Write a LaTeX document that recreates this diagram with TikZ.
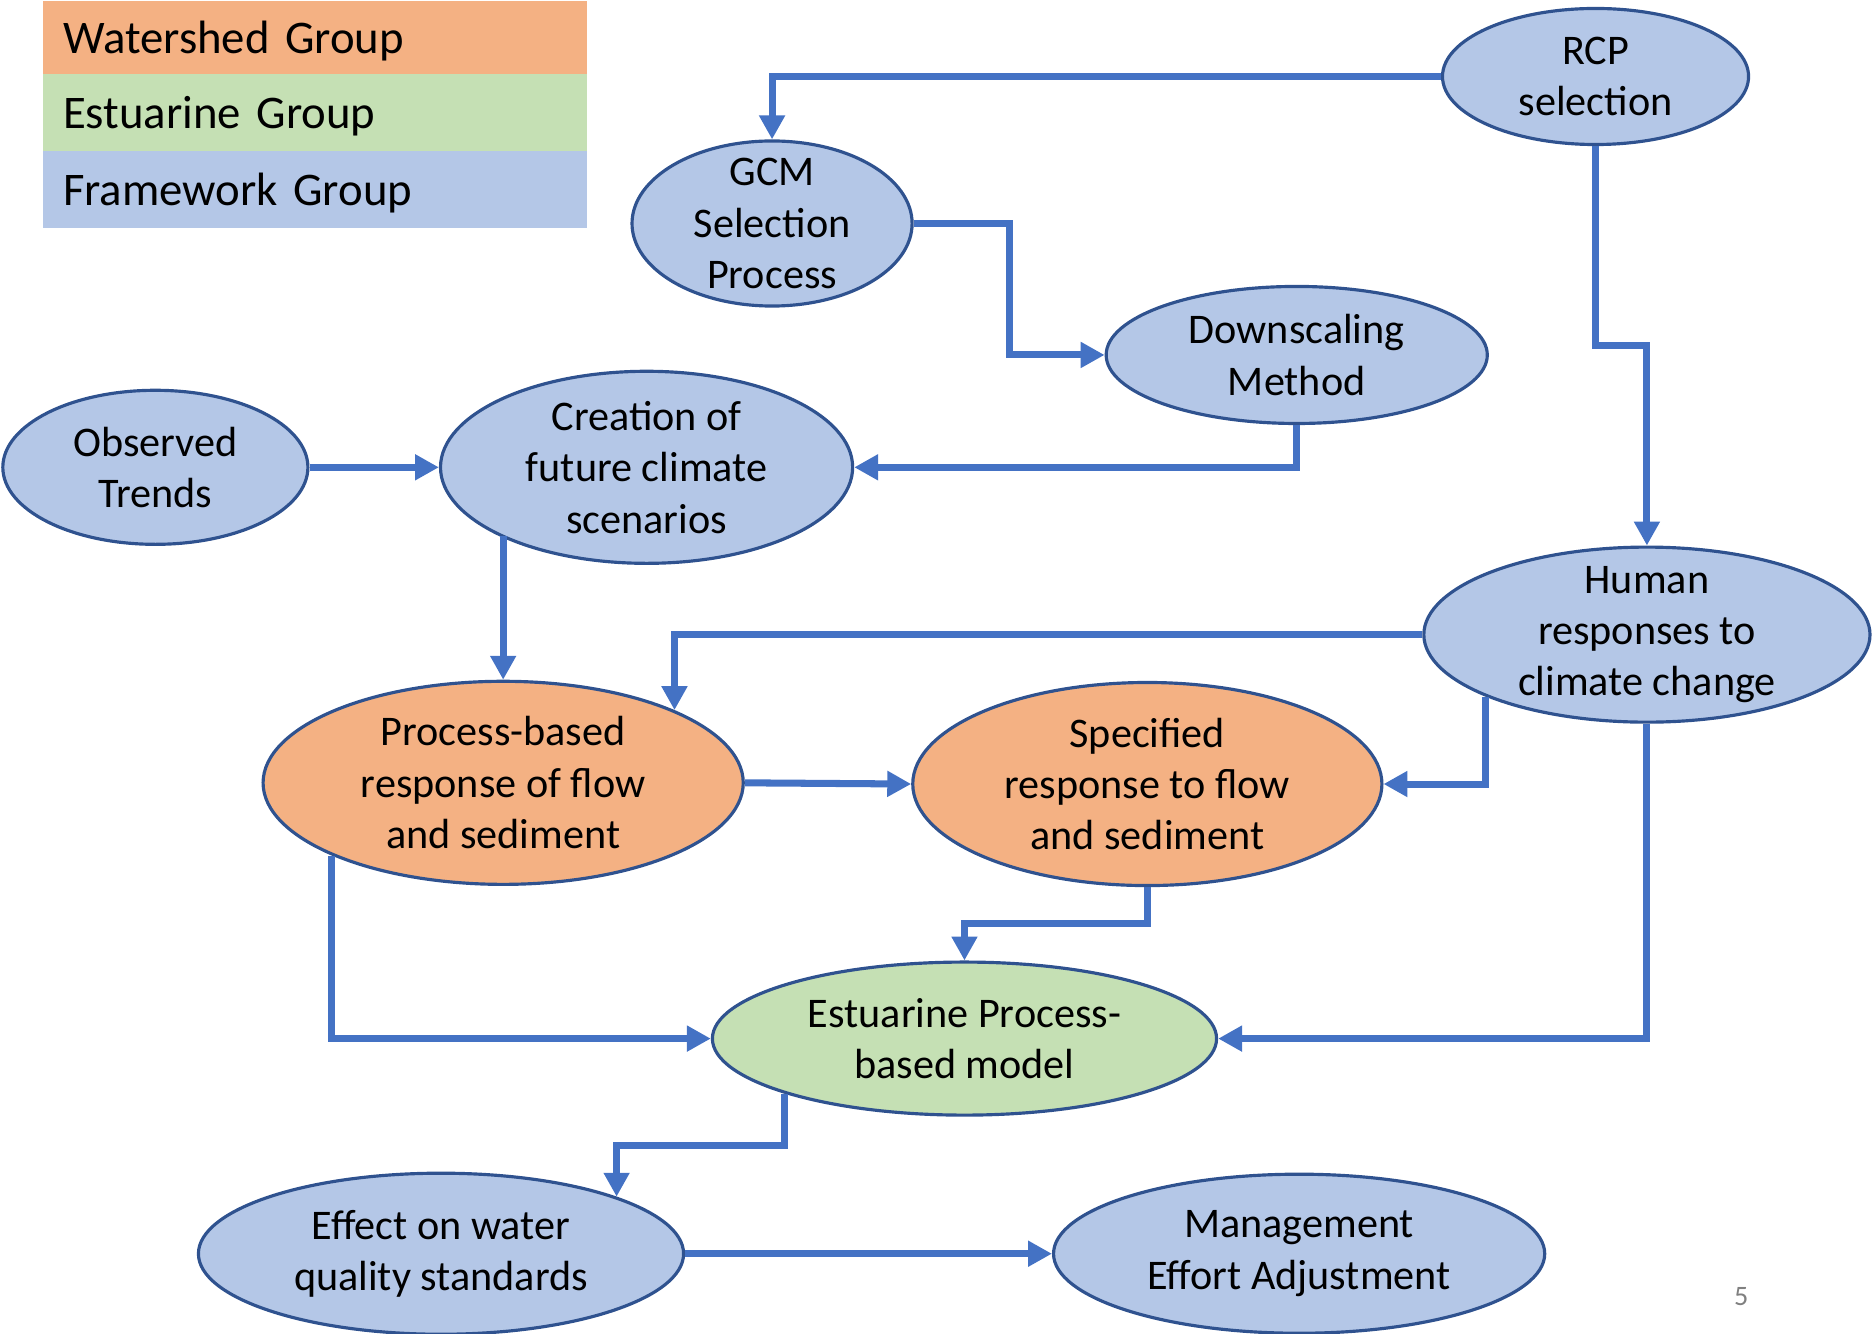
\documentclass[tikz,border=0pt]{standalone}
\usepackage{fontspec}
\setmainfont{Carlito}
\usepackage{tikz}
\usetikzlibrary{shapes, arrows.meta, calc}

\definecolor{fwblue}{HTML}{B4C7E7}
\definecolor{wsorange}{HTML}{F4B183}
\definecolor{esgreen}{HTML}{C5E0B4}
\definecolor{rimblue}{HTML}{2F528F}
\definecolor{linkblue}{HTML}{4472C4}

\tikzset{
	bubble/.style={draw=rimblue, line width=0.9pt, ellipse, inner sep=-2cm, align=center, font=\fontsize{12}{14.6}\selectfont},
	fwnode/.style={bubble, fill=fwblue},
	wsnode/.style={bubble, fill=wsorange},
	esnode/.style={bubble, fill=esgreen},
	legrow/.style={anchor=north west, outer sep=0pt, minimum width=5.44cm, inner xsep=0.2cm, text width=5.04cm, text depth=0pt, align=left, font=\fontsize{13.3}{16}\selectfont},
	link/.style={draw=linkblue, line width=2pt, -{Triangle[length=6.8pt,width=7pt]}}
}

\begin{document}
\begin{tikzpicture}[x=0.011952cm, y=-0.011952cm]
	\useasboundingbox (0,0) rectangle (1568,1116);
	% legend
	\node[legrow, fill=wsorange, minimum height=0.73cm] (wsgroup) at (36,1) {Watershed Group};
	\node[legrow, fill=esgreen, minimum height=0.77cm] (esgroup) at (wsgroup.south west) {Estuarine Group};
	\node[legrow, fill=fwblue, minimum height=0.77cm] (fwgroup) at (esgroup.south west) {Framework Group};

	% climate inputs
	\node[fwnode, minimum width=3.06cm, minimum height=1.36cm] (rcp) at (1335,64) {RCP\\selection};
	\node[fwnode, minimum width=2.80cm, minimum height=1.65cm] (gcm) at (646,187) {GCM\\Selection\\Process};
	\node[fwnode, minimum width=3.81cm, minimum height=1.37cm] (downscale) at (1085,297) {Downscaling\\Method};
	\node[fwnode, minimum width=3.05cm, minimum height=1.54cm] (observed) at (130,391) {Observed\\Trends};
	\node[fwnode, minimum width=4.12cm, minimum height=1.92cm] (creation) at (541,391) {Creation of\\future climate\\scenarios};
	\node[fwnode, minimum width=4.46cm, minimum height=1.75cm] (human) at (1378,531) {Human\\responses to\\climate change};

	% flow and sediment
	\node[wsnode, minimum width=4.80cm, minimum height=2.03cm] (process) at (421,655) {Process-based\\response of flow\\and sediment};
	\node[wsnode, minimum width=4.69cm, minimum height=2.03cm] (specified) at (960,656) {Specified\\response to flow\\and sediment};
	\node[esnode, minimum width=5.04cm, minimum height=1.53cm] (estuarine) at (807,869) {Estuarine Process-\\based model};
	\node[fwnode, minimum width=4.85cm, minimum height=1.61cm] (effect) at (369,1049) {Effect on water\\quality standards};
	\node[fwnode, minimum width=4.91cm, minimum height=1.59cm] (manage) at (1087,1049) {Management\\Effort Adjustment};

	\node[text=gray, font=\fontsize{8}{10}\selectfont] (pagenum) at (1457,1085) {5};

	% links
	\draw[link] (rcp.west) -| (gcm.north);
	\draw[link] (gcm.east) -| ($(gcm.east)!0.5!(downscale.west)$) |- (downscale.west);
	\draw[link] (rcp.south) |- ($(rcp.south)!0.5!(human.north)$) -| (human.north);
	\draw[link] (downscale.south) |- (creation.east);
	\draw[link] (observed.east) -- (creation.west);
	\draw[link] (process.north |- creation.205) -- (process.north);
	\draw[link] (human.west) -| (process.23);
	\draw[link] (process.east) -- (specified.west);
	\draw[link] (human.201) |- (specified.east);
	\draw[link] (specified.south) |- ($(specified.south)!0.5!(estuarine.north)$) -| (estuarine.north);
	\draw[link] (process.203) |- (estuarine.west);
	\draw[link] (human.south) |- (estuarine.east);
	\draw[link] (estuarine.197) |- ($(estuarine.197)!0.5!(effect.18)$) -| (effect.18);
	\draw[link] (effect.east) -- (manage.west);
\end{tikzpicture}
\end{document}
